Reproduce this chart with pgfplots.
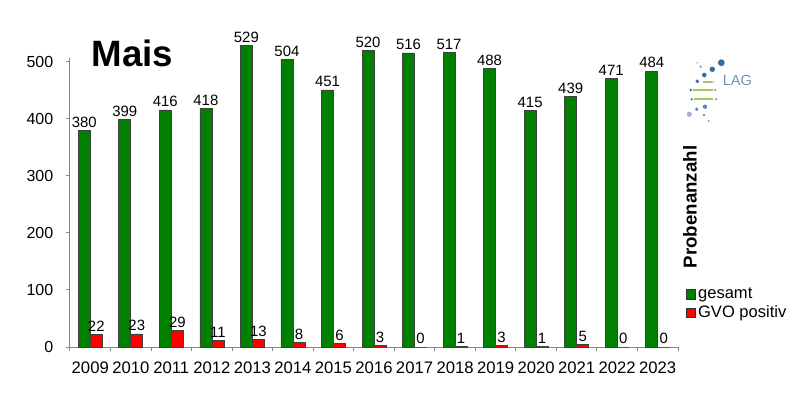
\documentclass[border=0pt]{standalone}
\usepackage{fontspec}
\setmainfont{Liberation Sans}
\usepackage{pgfplots}
\pgfplotsset{compat=1.18}
\definecolor{bargreen}{HTML}{008000}
\definecolor{barred}{HTML}{FF0000}
\definecolor{axgray}{HTML}{868686}
\definecolor{logoblue}{HTML}{2F6EA8}
\definecolor{logomid}{HTML}{5B87B8}
\definecolor{logolight}{HTML}{9DB3CE}
\definecolor{logogreen}{HTML}{A9C65C}
\definecolor{lagtext}{HTML}{7393B8}
\begin{document}
\begin{tikzpicture}
\begin{scope}[shift={(-52.5pt,260.25pt)}, x=0.75pt, y=-0.75pt]
\useasboundingbox (0,0) rectangle (800,400);
\end{scope}
\begin{axis}[
  at={(0,0)}, anchor=south west,
  scale only axis, width=456pt, height=216.75pt,
  xmin=-0.5, xmax=14.5, ymin=0, ymax=507,
  ybar, bar width=9pt, clip=false,
  axis x line=bottom, axis y line=left,
  axis line style={-, draw=axgray, line width=0.75pt},
  tick style={axgray, line width=0.75pt},
  tick align=outside,
  major tick length=3pt, minor tick length=3pt,
  ytick={0,100,...,500},
  xtick={0,...,14},
  xticklabels={2009,2010,2011,2012,2013,2014,2015,2016,2017,2018,2019,2020,2021,2022,2023},
  major x tick style={draw=none},
  minor xtick={-0.5,0.5,...,14.5},
  /pgf/number format/assume math mode=true,
  /pgf/number format/1000 sep={},
  x tick label style={font=\fontsize{12.5}{14}\selectfont, yshift=-4.3pt},
  y tick label style={font=\fontsize{12}{13}\selectfont, xshift=-6pt},
  nodes near coords,
  every node near coord/.append style={font=\fontsize{11.2}{13}\selectfont, inner sep=1pt, yshift=1pt},
  legend style={at={(axis description cs:1.0125,0.149)}, anchor=west, draw=none, fill=none,
     inner sep=0pt, row sep=1pt, font=\fontsize{12.4}{14}\selectfont,
     nodes={inner sep=1.5pt}},
  legend cell align=left,
  legend image code/.code={\draw[#1, draw=black!80, line width=0.5pt] (0pt,-3.6pt) rectangle (7.2pt,3.6pt);},
]
\addplot[fill=bargreen, draw=black!75, line width=0.5pt, bar shift=-4.5pt] coordinates {
 (0,380) (1,399) (2,416) (3,418) (4,529) (5,504) (6,451) (7,520) (8,516) (9,517) (10,488) (11,415) (12,439) (13,471) (14,484)};
\addplot[fill=barred, draw=black!75, line width=0.5pt, bar shift=4.5pt] coordinates {
 (0,22) (1,23) (2,29) (3,11) (4,13) (5,8) (6,6) (7,3) (8,0) (9,1) (10,3) (11,1) (12,5) (13,0) (14,0)};
\legend{gesamt, GVO positiv}
\end{axis}
\begin{scope}[shift={(-52.5pt,260.25pt)}, x=0.75pt, y=-0.75pt]
\node[anchor=base, font=\fontsize{27.5}{30}\selectfont\bfseries, inner sep=0pt] at (132.5,66.7) {Mais};
\node[rotate=90, font=\fontsize{14}{16}\selectfont\bfseries, inner sep=0pt] at (690,207) {Probenanzahl};
% logo
\fill[logoblue] (721.3,62.7) circle (3.4);
\fill[logoblue] (712.3,69.3) circle (2.7);
\fill[logolight] (697.3,62.7) circle (0.9);
\fill[logomid] (700.7,66.7) circle (1.2);
\fill[logoblue] (704.3,75) circle (2.3);
\fill[logoblue] (697.3,81.3) circle (1.9);
\fill[logolight] (713.3,82) circle (1.1);
\draw[logogreen, line width=1.3] (703,82.3) -- (711.5,82.3);
\fill[logoblue] (690.7,90) circle (1.4);
\draw[logogreen, line width=1.3] (693.3,90) -- (713.3,90);
\fill[logomid] (715.3,90) circle (1.1);
\fill[logoblue] (691.7,99.3) circle (1.2);
\draw[logogreen, line width=1.3] (694,99.3) -- (713.3,99.3);
\fill[logomid] (716,99.3) circle (1.1);
\fill[logomid] (705,106.7) circle (2.2);
\fill[logomid] (696.7,109.3) circle (1.9);
\fill[logolight] (689.3,114.3) circle (2.6);
\fill[logoblue] (704,115) circle (1.1);
\fill[logomid] (708.7,121) circle (0.8);
\node[anchor=base west, inner sep=0pt, text=lagtext, font=\fontsize{11}{12}\selectfont] at (722.5,86) {LAG};
\end{scope}
\end{tikzpicture}
\end{document}
